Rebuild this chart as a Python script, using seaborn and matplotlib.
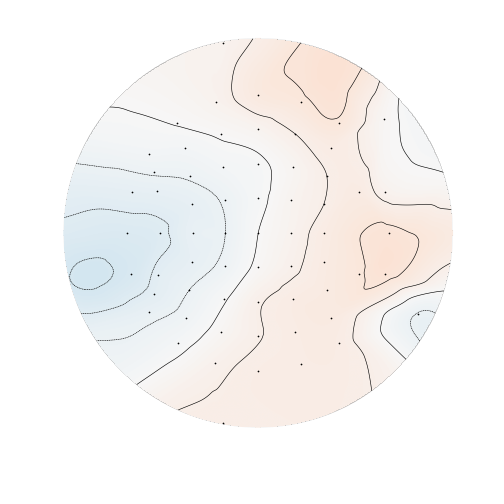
import numpy as np
import matplotlib
matplotlib.use("Agg")
import matplotlib.pyplot as plt
import matplotlib.tri as mtri
from matplotlib.patches import Circle
import seaborn as sns

# ---------------------------------------------------------------------------
# Data: sensor positions (head units, radius 1) and field values
# ---------------------------------------------------------------------------
sensor_x = [-0.183, 0.000, -0.218, 0.217, 0.645, -0.415, 0.412, -0.191, 0.000, 0.190,
            -0.374, -0.562, 0.371, 0.000, -0.179, 0.176, -0.535, -0.352, 0.351,
            -0.649, -0.518, -0.172, -0.340, 0.000, 0.169, 0.337, 0.515, 0.648,
            -0.673, -0.506, -0.336, -0.169, 0.000, 0.166, 0.335, 0.670,
            -0.651, -0.516, -0.342, -0.172, 0.000, 0.168, 0.338, 0.516, 0.648,
            -0.535, -0.354, -0.177, 0.000, 0.176, 0.351,
            -0.562, -0.372, 0.373, 0.819,
            -0.191, 0.000, 0.190, -0.413, 0.412,
            -0.221, 0.000, 0.217, -0.181]
sensor_y = [0.974, 0.706, 0.672, 0.672, 0.582, 0.564, 0.564, 0.506, 0.530, 0.506,
            0.436, 0.405, 0.436, 0.352, 0.338, 0.338, 0.313, 0.292, 0.292,
            0.209, 0.212, 0.168, 0.149, 0.176, 0.168, 0.149, 0.210, 0.209,
            0.000, 0.000, 0.000, 0.000, 0.000, 0.000, 0.000, 0.000,
            -0.210, -0.215, -0.149, -0.169, -0.177, -0.169, -0.149, -0.213, -0.210,
            -0.314, -0.294, -0.340, -0.354, -0.340, -0.294,
            -0.405, -0.436, -0.436, -0.418,
            -0.508, -0.530, -0.508, -0.567, -0.567,
            -0.670, -0.708, -0.673, -0.974]
sensor_val = [0.6, 1.6, 0.6, 1.85, 0.3, 0.05, 1.9, 0.1, 0.5, 1.0,
              -0.4, -0.5, 1.3, -0.15, -0.4, 0.4, -0.9, -0.9, 1.0,
              -1.5, -1.4, -0.9, -1.4, -0.2, 0.5, 1.0, 1.4, 0.7,
              -2.4, -2.2, -1.3, -1.0, 0.0, 0.6, 1.3, 2.2,
              -2.7, -1.8, -1.4, -0.8, 0.2, 0.8, 1.4, 1.9, 2.3,
              -1.7, -1.0, -0.1, 0.9, 1.3, 1.5,
              -1.3, -0.7, 1.5, -1.05,
              0.3, 0.95, 1.3, -0.3, 1.3,
              0.75, 1.2, 1.3, 1.15]

# extra readings inside the disc (local extrema without a sensor)
extra_x = [0.383, -0.870, 0.805]
extra_y = [0.809, -0.262, -0.038]
extra_val = [2.5, -3.12, 2.05]

# readings along the rim of the head, every 15 degrees from the right
rim_angle = [0, 15, 30, 45, 60, 75, 90, 105, 120, 135, 150, 165,
             180, 195, 210, 225, 240, 255, 270, 285, 300, 315, 330, 345]
rim_val = [1.4, 0.1, -0.35, 0.0, 2.2, 2.1, 1.03, 0.6, 0.45, 0.15, -0.3, -1.4,
           -2.2, -2.9, -1.2, -0.5, 0.8, 1.2, 1.1, 1.2, 1.1, 0.5, -1.4, 0.2]

contour_levels = [-3, -2, -1, 0, 1, 2]

# ---------------------------------------------------------------------------
# Interpolate the field over the head disc
# ---------------------------------------------------------------------------
rim_r = 1.03
rim_x = rim_r * np.cos(np.deg2rad(rim_angle))
rim_y = rim_r * np.sin(np.deg2rad(rim_angle))

px = np.concatenate([sensor_x, extra_x, rim_x])
py = np.concatenate([sensor_y, extra_y, rim_y])
pv = np.concatenate([sensor_val, extra_val, rim_val])

tri = mtri.Triangulation(px, py)
interp = mtri.CubicTriInterpolator(tri, pv, kind="geom")

gx, gy = np.meshgrid(np.linspace(-1.01, 1.01, 400), np.linspace(-1.01, 1.01, 400))
field = interp(gx, gy)
field = np.ma.masked_where(np.hypot(gx, gy) > 1.0, field)

# ---------------------------------------------------------------------------
# Plot
# ---------------------------------------------------------------------------
sns.set_style("white")
fig = plt.figure(figsize=(7, 7), dpi=72)
ax = fig.add_axes([0, 0, 1, 1])

vmax = 17.0
im = ax.imshow(field, extent=(-1.01, 1.01, -1.01, 1.01), origin="lower",
               cmap="RdBu_r", vmin=-vmax, vmax=vmax, interpolation="bilinear")
im.set_clip_path(Circle((0, 0), 1.0, transform=ax.transData))

cs = ax.contour(gx, gy, field, levels=contour_levels, colors="k",
                linewidths=0.6, negative_linestyles=(0, (2, 1)))
cs.set_clip_path(Circle((0, 0), 1.0, transform=ax.transData))

sns.scatterplot(x=sensor_x, y=sensor_y, color="k", s=3, linewidth=0, ax=ax, legend=False)

ax.set_xlim((0 - 258.3) / 195, (504 - 258.3) / 195)
ax.set_ylim((232.7 - 504) / 195, 232.7 / 195)
ax.axis("off")

fig.savefig("out.png", dpi=72)
plt.close(fig)
